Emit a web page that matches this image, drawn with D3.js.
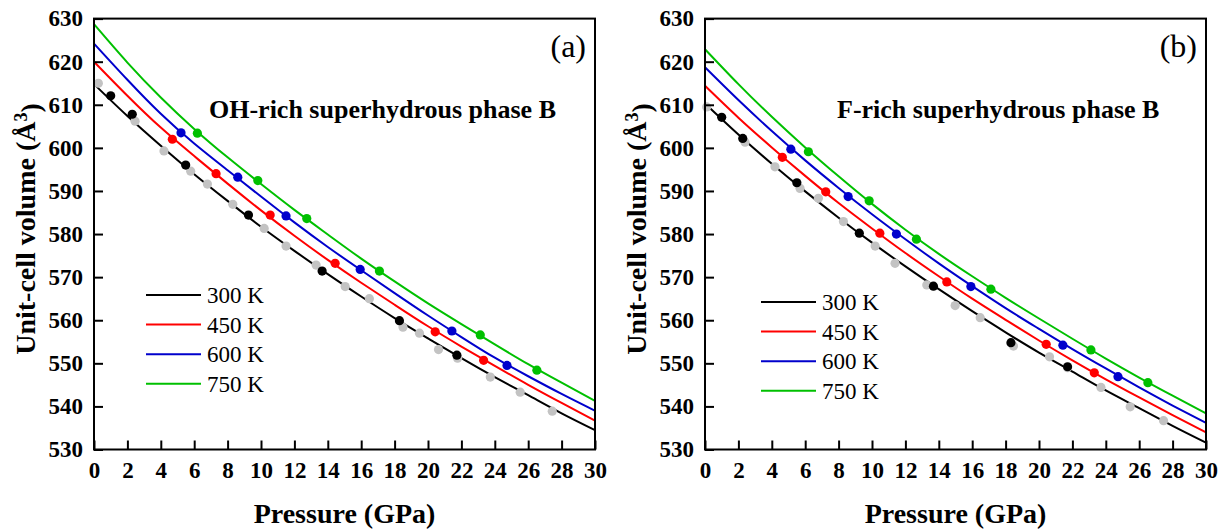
<!DOCTYPE html>
<html>
<head>
<meta charset="utf-8">
<script src="https://cdn.jsdelivr.net/npm/d3@7"></script>
<style>
  html, body { margin: 0; padding: 0; background: #fff; }
  svg { display: block; }
</style>
</head>
<body>
<svg id="chart" width="1225" height="530"></svg>
<script>
// ---- EOS fit curves, sampled every 2 GPa ----
const pressureGrid = [0, 2, 4, 6, 8, 10, 12, 14, 16, 18, 20, 22, 24, 26, 28, 30];

const ohFit300 = [614.8, 607.4, 600.5, 593.9, 587.7, 581.7, 576.1, 570.7, 565.5, 560.5, 555.8, 551.2, 546.8, 542.6, 538.4, 534.5];
const ohFit450 = [620.0, 612.1, 604.7, 598.1, 591.7, 585.5, 579.6, 574.0, 568.7, 563.6, 558.6, 553.9, 549.4, 545.0, 540.8, 536.7];
const ohFit600 = [624.2, 615.8, 607.9, 601.0, 594.8, 588.7, 582.7, 577.0, 571.6, 566.3, 561.1, 556.1, 551.3, 547.0, 542.9, 539.0];
const ohFit750 = [628.7, 619.8, 611.7, 604.4, 597.8, 591.6, 585.6, 579.9, 574.3, 569.0, 563.9, 559.1, 554.4, 549.8, 545.5, 541.3];

const fFit300 = [610.3, 603.1, 596.3, 589.9, 583.8, 578.0, 572.5, 567.2, 562.1, 557.2, 552.5, 548.1, 543.7, 539.6, 535.5, 531.6];
const fFit450 = [614.4, 607.0, 600.1, 593.5, 587.2, 581.3, 575.6, 570.2, 565.0, 560.1, 555.3, 550.7, 546.3, 542.1, 538.0, 534.0];
const fFit600 = [618.7, 611.1, 603.9, 597.1, 590.7, 584.6, 578.8, 573.2, 567.9, 562.8, 558.0, 553.3, 548.8, 544.4, 540.2, 536.2];
const fFit750 = [622.9, 614.8, 607.2, 600.1, 593.4, 587.0, 581.0, 575.4, 570.2, 565.2, 560.4, 555.7, 551.1, 546.7, 542.5, 538.4];

// ---- Calculated volumes [P (GPa), V (Å^3)] ----
const ohRoomRef = [[0.26, 615.0], [2.46, 606.2], [4.19, 599.3], [5.79, 594.6], [6.79, 591.6], [8.31, 586.9],
  [10.19, 581.3], [11.50, 577.2], [13.30, 572.8], [15.04, 567.8], [16.49, 565.0], [18.50, 558.4],
  [19.49, 557.0], [20.63, 553.2], [21.77, 551.2], [23.73, 546.8], [25.52, 543.3], [27.44, 538.9]];
const ohObs300 = [[1.00, 612.1], [2.29, 607.8], [5.49, 596.0], [9.25, 584.4], [13.66, 571.4], [18.29, 559.9], [21.73, 551.9]];
const ohObs450 = [[4.69, 602.0], [7.31, 594.0], [10.55, 584.4], [14.44, 573.2], [20.43, 557.3], [23.33, 550.7]];
const ohObs600 = [[5.21, 603.5], [8.61, 593.2], [11.50, 584.2], [15.94, 571.8], [21.43, 557.5], [24.73, 549.5]];
const ohObs750 = [[6.19, 603.4], [9.81, 592.4], [12.74, 583.6], [17.09, 571.4], [23.13, 556.6], [26.52, 548.4]];

const fRoomRef = [[0.10, 609.5], [2.40, 601.3], [4.19, 595.6], [5.69, 590.6], [6.79, 588.3], [8.29, 582.9],
  [10.19, 577.2], [11.38, 573.2], [13.28, 568.2], [14.98, 563.4], [16.48, 560.6], [18.47, 554.0],
  [20.63, 551.5], [21.71, 549.0], [23.71, 544.4], [25.46, 539.9], [27.46, 536.7]];
const fObs300 = [[1.00, 607.1], [2.26, 602.2], [5.50, 591.9], [9.24, 580.2], [13.68, 567.9], [18.32, 554.8], [21.71, 549.2]];
const fObs450 = [[4.63, 597.8], [7.23, 589.8], [10.47, 580.2], [14.48, 568.9], [20.43, 554.4], [23.31, 547.8]];
const fObs600 = [[5.14, 599.7], [8.57, 588.7], [11.46, 580.0], [15.92, 567.8], [21.43, 554.2], [24.73, 546.9]];
const fObs750 = [[6.19, 599.1], [9.83, 587.7], [12.66, 578.8], [17.12, 567.2], [23.11, 553.1], [26.52, 545.5]];

// ---- Labels and ticks ----
const temperatureLabels = ["300 K", "450 K", "600 K", "750 K"];
const seriesColors = ["#000000", "#ff0000", "#0000cc", "#00c000"];
const refColor = "#c3c3c3";
const xTicks = [0, 2, 4, 6, 8, 10, 12, 14, 16, 18, 20, 22, 24, 26, 28, 30];
const yTicks = [530, 540, 550, 560, 570, 580, 590, 600, 610, 620, 630];
const panelTitles = ["OH-rich superhydrous phase B", "F-rich superhydrous phase B"];
const panelTags = ["(a)", "(b)"];

const FONT = "'Liberation Serif', 'Times New Roman', serif";
const svg = d3.select("#chart");

const panels = [
  { left: 94, right: 595, fits: [ohFit300, ohFit450, ohFit600, ohFit750],
    obs: [ohObs300, ohObs450, ohObs600, ohObs750], ref: ohRoomRef,
    title: panelTitles[0], tag: panelTags[0], titleX: 209, legendX: 146, legendY: 295 },
  { left: 705, right: 1206, fits: [fFit300, fFit450, fFit600, fFit750],
    obs: [fObs300, fObs450, fObs600, fObs750], ref: fRoomRef,
    title: panelTitles[1], tag: panelTags[1], titleX: 837, legendX: 761, legendY: 302 }
];

const plotTop = 18.6, plotBottom = 449.5;
const markerR = 4.6;

panels.forEach(p => {
  const g = svg.append("g");
  const x = d3.scaleLinear().domain([0, 30]).range([p.left, p.right]);
  const y = d3.scaleLinear().domain([530, 630]).range([plotBottom, plotTop]);

  const line = d3.line()
    .x((d, i) => x(pressureGrid[i]))
    .y(d => y(d))
    .curve(d3.curveNatural);

  // fitted isotherms
  p.fits.forEach((vals, i) => {
    g.append("path")
      .attr("d", line(vals))
      .attr("fill", "none")
      .attr("stroke", seriesColors[i])
      .attr("stroke-width", 2);
  });

  // room-temperature reference points
  g.append("g").selectAll("circle").data(p.ref).join("circle")
    .attr("cx", d => x(d[0])).attr("cy", d => y(d[1]))
    .attr("r", markerR).attr("fill", refColor);

  // isotherm points
  p.obs.forEach((pts, i) => {
    g.append("g").selectAll("circle").data(pts).join("circle")
      .attr("cx", d => x(d[0])).attr("cy", d => y(d[1]))
      .attr("r", markerR).attr("fill", seriesColors[i]);
  });

  // frame
  g.append("rect")
    .attr("x", p.left).attr("y", plotTop)
    .attr("width", p.right - p.left).attr("height", plotBottom - plotTop)
    .attr("fill", "none").attr("stroke", "#000").attr("stroke-width", 2);

  // axes with inward ticks
  const xAxis = g.append("g")
    .attr("transform", `translate(0,${plotBottom})`)
    .call(d3.axisBottom(x).tickValues(xTicks).tickSize(-9).tickPadding(12).tickFormat(d3.format("d")));
  const yAxis = g.append("g")
    .attr("transform", `translate(${p.left},0)`)
    .call(d3.axisLeft(y).tickValues(yTicks).tickSize(-9).tickPadding(11).tickFormat(d3.format("d")));

  [xAxis, yAxis].forEach(a => {
    a.select(".domain").remove();
    a.selectAll(".tick line").attr("stroke", "#000").attr("stroke-width", 2);
    a.selectAll(".tick text")
      .attr("fill", "#000")
      .style("font-family", FONT)
      .style("font-size", "23px")
      .style("font-weight", "bold");
  });

  // axis titles
  const cx = (p.left + p.right) / 2;
  g.append("text")
    .attr("x", cx).attr("y", 523)
    .attr("text-anchor", "middle")
    .style("font-family", FONT).style("font-size", "28px").style("font-weight", "bold")
    .text("Pressure (GPa)");

  const yt = g.append("text")
    .attr("transform", `translate(${p.left - 59},229) rotate(-90)`)
    .attr("text-anchor", "middle")
    .style("font-family", FONT).style("font-size", "28px").style("font-weight", "bold");
  yt.append("tspan").text("Unit-cell volume (Å");
  yt.append("tspan").attr("dy", "-0.45em").style("font-size", "18px").text("3");
  yt.append("tspan").attr("dy", "0.45em").text(")");

  // panel title and tag
  g.append("text")
    .attr("x", p.titleX).attr("y", 118)
    .style("font-family", FONT).style("font-size", "26px").style("font-weight", "bold")
    .text(p.title);
  g.append("text")
    .attr("x", p.right - 9).attr("y", 57)
    .attr("text-anchor", "end")
    .style("font-family", FONT).style("font-size", "32px")
    .text(p.tag);

  // legend
  temperatureLabels.forEach((lab, i) => {
    const ly = p.legendY + i * 29.6;
    g.append("line")
      .attr("x1", p.legendX).attr("x2", p.legendX + 55)
      .attr("y1", ly).attr("y2", ly)
      .attr("stroke", seriesColors[i]).attr("stroke-width", 2);
    g.append("text")
      .attr("x", p.legendX + 61).attr("y", ly)
      .attr("dy", "0.36em")
      .style("font-family", FONT).style("font-size", "23px")
      .text(lab);
  });
});
</script>
</body>
</html>
